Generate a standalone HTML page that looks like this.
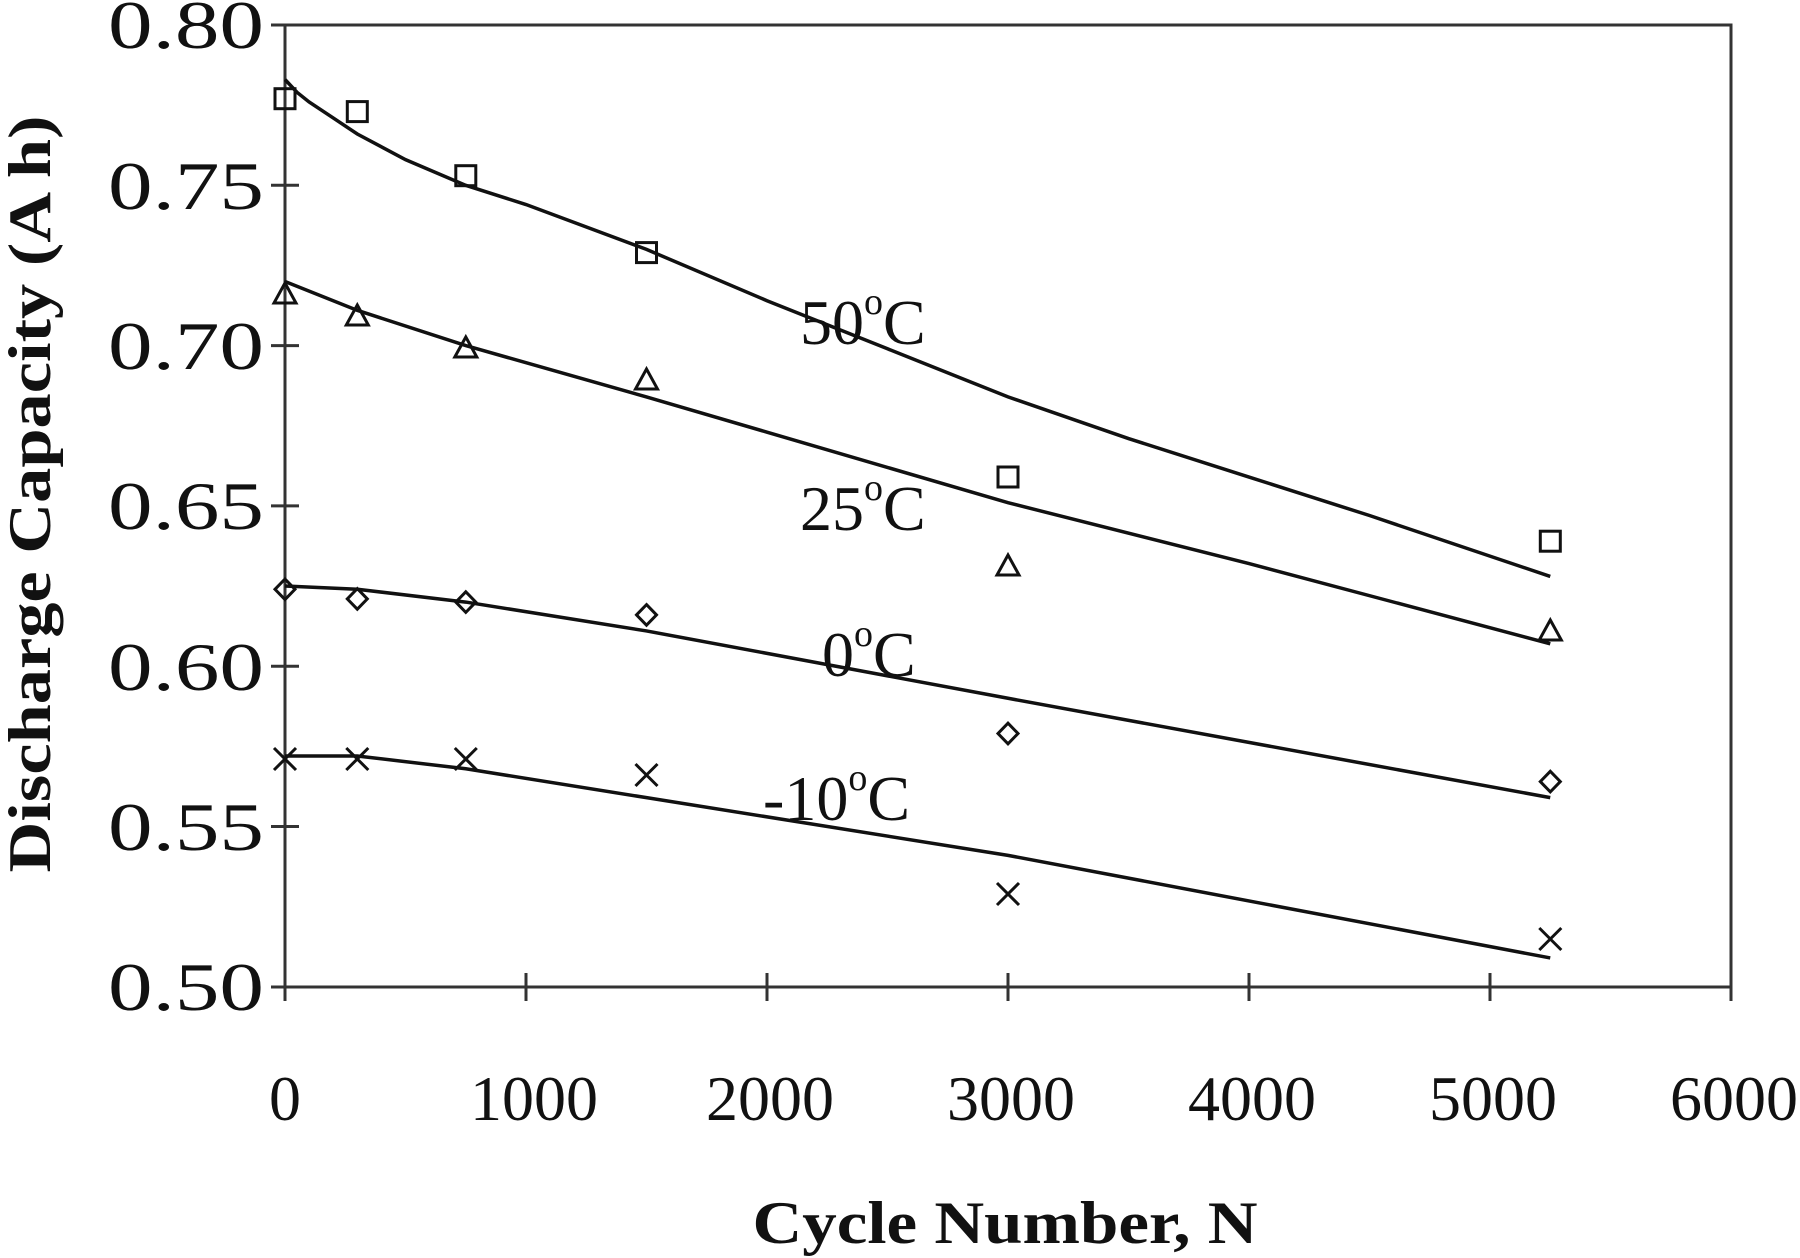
<!DOCTYPE html>
<html><head><meta charset="utf-8"><style>
html,body{margin:0;padding:0;background:#fff;}
svg{display:block;}
text{font-family:"Liberation Serif",serif;fill:#111;}
</style></head><body>
<svg width="1800" height="1258" viewBox="0 0 1800 1258" xmlns="http://www.w3.org/2000/svg">
<rect width="1800" height="1258" fill="#fff"/>
<rect x="285" y="25" width="1446" height="962" fill="none" stroke="#333" stroke-width="3"/>
<g stroke="#333" stroke-width="3">
<line x1="271" y1="25" x2="299" y2="25"/>
<line x1="271" y1="185.3" x2="299" y2="185.3"/>
<line x1="271" y1="345.6" x2="299" y2="345.6"/>
<line x1="271" y1="505.9" x2="299" y2="505.9"/>
<line x1="271" y1="666.2" x2="299" y2="666.2"/>
<line x1="271" y1="826.5" x2="299" y2="826.5"/>
<line x1="271" y1="987" x2="299" y2="987"/>
<line x1="285" y1="973" x2="285" y2="1001"/>
<line x1="526" y1="973" x2="526" y2="1001"/>
<line x1="767" y1="973" x2="767" y2="1001"/>
<line x1="1008" y1="973" x2="1008" y2="1001"/>
<line x1="1249" y1="973" x2="1249" y2="1001"/>
<line x1="1490" y1="973" x2="1490" y2="1001"/>
<line x1="1731" y1="973" x2="1731" y2="1001"/>
</g>
<g font-size="68" text-anchor="end">
<text x="264" y="48" textLength="156" lengthAdjust="spacingAndGlyphs">0.80</text>
<text x="264" y="209" textLength="156" lengthAdjust="spacingAndGlyphs">0.75</text>
<text x="264" y="369" textLength="156" lengthAdjust="spacingAndGlyphs">0.70</text>
<text x="264" y="529" textLength="156" lengthAdjust="spacingAndGlyphs">0.65</text>
<text x="264" y="690" textLength="156" lengthAdjust="spacingAndGlyphs">0.60</text>
<text x="264" y="850" textLength="156" lengthAdjust="spacingAndGlyphs">0.55</text>
<text x="264" y="1010" textLength="156" lengthAdjust="spacingAndGlyphs">0.50</text>
</g>
<g font-size="64" text-anchor="middle">
<text x="285" y="1120">0</text>
<text x="534" y="1120" textLength="128" lengthAdjust="spacingAndGlyphs">1000</text>
<text x="770" y="1120" textLength="128" lengthAdjust="spacingAndGlyphs">2000</text>
<text x="1011" y="1120" textLength="128" lengthAdjust="spacingAndGlyphs">3000</text>
<text x="1252" y="1120" textLength="128" lengthAdjust="spacingAndGlyphs">4000</text>
<text x="1493" y="1120" textLength="128" lengthAdjust="spacingAndGlyphs">5000</text>
<text x="1734" y="1120" textLength="128" lengthAdjust="spacingAndGlyphs">6000</text>
</g>
<text x="1005" y="1243" font-size="60" font-weight="bold" text-anchor="middle" textLength="505" lengthAdjust="spacingAndGlyphs">Cycle Number, N</text>
<text transform="translate(50,494) rotate(-90)" font-size="60" font-weight="bold" text-anchor="middle" textLength="757" lengthAdjust="spacingAndGlyphs">Discharge Capacity (A h)</text>
<g transform="matrix(0.241 0 0 -3206 285 2589.8)" fill="none" stroke="#111" stroke-width="3.5">
<polyline vector-effect="non-scaling-stroke" points="0,0.783 50,0.779 100,0.776 200,0.771 300,0.766 500,0.758 750,0.750 1000,0.744 1500,0.730 2000,0.714 2500,0.699 3000,0.684 3500,0.671 4000,0.659 4500,0.647 5250,0.628"/>
<polyline vector-effect="non-scaling-stroke" points="0,0.720 300,0.711 750,0.700 1500,0.684 2000,0.673 3000,0.651 4000,0.632 5250,0.607"/>
<polyline vector-effect="non-scaling-stroke" points="0,0.625 300,0.624 750,0.620 1500,0.611 3000,0.590 5250,0.559"/>
<polyline vector-effect="non-scaling-stroke" points="0,0.572 300,0.572 750,0.568 1500,0.559 3000,0.541 5250,0.509"/>
</g>
<g fill="none" stroke="#111" stroke-width="3">
<rect x="275" y="88.7" width="20" height="20"/>
<rect x="347.3" y="101.6" width="20" height="20"/>
<rect x="455.8" y="165.7" width="20" height="20"/>
<rect x="636.5" y="242.6" width="20" height="20"/>
<rect x="998" y="467" width="20" height="20"/>
<rect x="1540.3" y="531.2" width="20" height="20"/>
<polygon points="285,283 296,303 274,303"/>
<polygon points="357.3,305 368.3,325 346.3,325"/>
<polygon points="465.8,337 476.8,357 454.8,357"/>
<polygon points="646.5,369 657.5,389 635.5,389"/>
<polygon points="1008,555 1019,575 997,575"/>
<polygon points="1550.3,620 1561.3,640 1539.3,640"/>
<polygon points="285,579 295,589.3 285,599.6 275,589.3"/>
<polygon points="357.3,588.6 367.3,598.9 357.3,609.2 347.3,598.9"/>
<polygon points="465.8,591.8 475.8,602.1 465.8,612.4 455.8,602.1"/>
<polygon points="646.5,604.6 656.5,614.9 646.5,625.2 636.5,614.9"/>
<polygon points="1008,723.2 1018,733.5 1008,743.8 998,733.5"/>
<polygon points="1550.3,771.3 1560.3,781.6 1550.3,791.9 1540.3,781.6"/>
<path d="M274,748 l22,22 M296,748 l-22,22"/>
<path d="M346.3,748 l22,22 M368.3,748 l-22,22"/>
<path d="M454.8,748 l22,22 M476.8,748 l-22,22"/>
<path d="M635.5,764 l22,22 M657.5,764 l-22,22"/>
<path d="M997,883 l22,22 M1019,883 l-22,22"/>
<path d="M1539.3,928 l22,22 M1561.3,928 l-22,22"/>
</g>
<g font-size="64">
<text x="800" y="344">50<tspan font-size="38" dy="-30">o</tspan><tspan dy="30">C</tspan></text>
<text x="800" y="530">25<tspan font-size="38" dy="-30">o</tspan><tspan dy="30">C</tspan></text>
<text x="822" y="676">0<tspan font-size="38" dy="-30">o</tspan><tspan dy="30">C</tspan></text>
<text x="763" y="820">-10<tspan font-size="38" dy="-30">o</tspan><tspan dy="30">C</tspan></text>
</g>
</svg>
</body></html>
